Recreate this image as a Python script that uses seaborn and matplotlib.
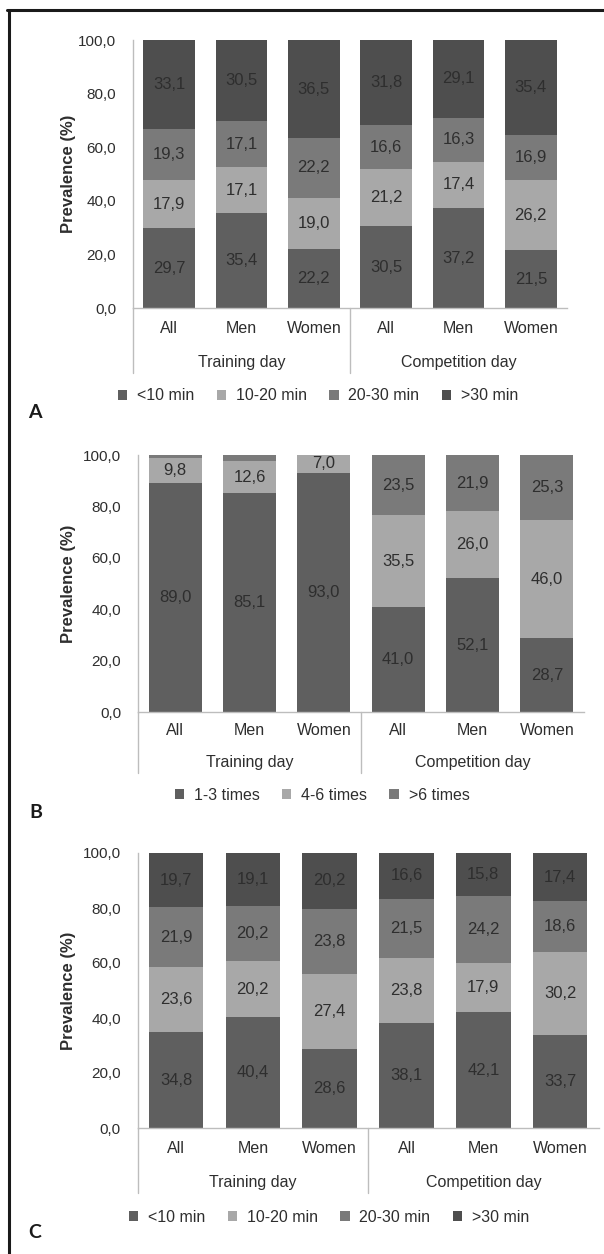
import numpy as np
import matplotlib.pyplot as plt
from matplotlib.patches import Patch
from matplotlib.lines import Line2D
from matplotlib import font_manager
import seaborn as sns

# categories
keys = ['T-All', 'T-Men', 'T-Women', 'C-All', 'C-Men', 'C-Women']
groups = ['All', 'Men', 'Women', 'All', 'Men', 'Women']
days = ['Training day', 'Competition day']

# panel A - minutes
a_series = ['<10 min', '10-20 min', '20-30 min', '>30 min']
a_lt10 = [29.7, 35.4, 22.2, 30.5, 37.2, 21.5]
a_10_20 = [17.9, 17.1, 19.0, 21.2, 17.4, 26.2]
a_20_30 = [19.3, 17.1, 22.2, 16.6, 16.3, 16.9]
a_gt30 = [33.1, 30.5, 36.5, 31.8, 29.1, 35.4]

# panel B - times
b_series = ['1-3 times', '4-6 times', '>6 times']
b_1_3 = [89.0, 85.1, 93.0, 41.0, 52.1, 28.7]
b_4_6 = [9.8, 12.6, 7.0, 35.5, 26.0, 46.0]
b_gt6 = [1.2, 2.3, 0.0, 23.5, 21.9, 25.3]

# panel C - minutes
c_series = ['<10 min', '10-20 min', '20-30 min', '>30 min']
c_lt10 = [34.8, 40.4, 28.6, 38.1, 42.1, 33.7]
c_10_20 = [23.6, 20.2, 27.4, 23.8, 17.9, 30.2]
c_20_30 = [21.9, 20.2, 23.8, 21.5, 24.2, 18.6]
c_gt30 = [19.7, 19.1, 20.2, 16.6, 15.8, 17.4]

dur_colors = ['#5f5f5f', '#a8a8a8', '#7a7a7a', '#4e4e4e']
freq_colors = ['#5f5f5f', '#a8a8a8', '#7a7a7a']

sns.set_style('white')
names_installed = {f.name for f in font_manager.fontManager.ttflist}
NARROW = 'Liberation Sans Narrow' if 'Liberation Sans Narrow' in names_installed else 'Liberation Sans'
plt.rcParams['font.family'] = [NARROW, 'DejaVu Sans']

TXT = '#2e2e2e'
AXC = '#bdbdbd'
FS = 11.5
W, H = 604, 1254

fig = plt.figure(figsize=(W / 100, H / 100), dpi=100)


def px_box(left, right, top, bottom):
    return [left / W, 1 - bottom / H, (right - left) / W, (bottom - top) / H]


def fmt(v):
    return f'{v:.1f}'.replace('.', ',')


panels = [
    dict(box=(133, 567, 40, 308), names=a_series, vals=[a_lt10, a_10_20, a_20_30, a_gt30],
         colors=dur_colors, tick_dy=22, grp_dy=55, sep_dy=65, leg=(318, 396), letter=('A', 28, 413)),
    dict(box=(138, 584, 455, 712), names=b_series, vals=[b_1_3, b_4_6, b_gt6],
         colors=freq_colors, tick_dy=20, grp_dy=51, sep_dy=61, leg=(322, 795), letter=('B', 29, 812)),
    dict(box=(137.6, 598.6, 853, 1128), names=c_series, vals=[c_lt10, c_10_20, c_20_30, c_gt30],
         colors=dur_colors, tick_dy=22, grp_dy=55, sep_dy=65, leg=(329, 1217), letter=('C', 28, 1232)),
]

for p in panels:
    left, right, top, bottom = p['box']
    ax_h = bottom - top
    ax = fig.add_axes(px_box(left, right, top, bottom))

    cums = list(np.cumsum(np.array(p['vals']), axis=0))
    # stacked bars: draw the tallest cumulative first, smaller ones on top
    for top_vals, col in reversed(list(zip(cums, p['colors']))):
        sns.barplot(x=keys, y=top_vals, order=keys, color=col, width=0.71,
                    saturation=1, errorbar=None, linewidth=0, ax=ax)

    for v, t in zip(p['vals'], cums):
        for i, (val, tt) in enumerate(zip(v, t)):
            if val >= 5:
                ax.text(i, tt - val / 2, fmt(val), ha='center', va='center',
                        fontsize=12, color=TXT)

    ax.set_xlim(-0.5, 5.5)
    ax.set_ylim(0, 100)
    ax.set_xlabel('')
    ax.set_ylabel('')
    ax.set_yticks(range(0, 101, 20))
    ax.set_yticklabels([fmt(t) for t in range(0, 101, 20)], fontsize=11, color=TXT)
    ax.set_xticks(range(6))
    ax.set_xticklabels(groups, fontsize=FS, color=TXT)
    ax.tick_params(axis='x', length=0, pad=(p['tick_dy'] - 9) * 0.72)
    ax.tick_params(axis='y', length=3, width=1, color=AXC, direction='out', pad=9)
    for s in ['top', 'right']:
        ax.spines[s].set_visible(False)
    for s in ['left', 'bottom']:
        ax.spines[s].set_color(AXC)
        ax.spines[s].set_linewidth(1)

    # group separators below the axis
    for xs in (-0.5, 2.5):
        ax.axvline(xs, ymin=-p['sep_dy'] / ax_h, ymax=0, color=AXC, lw=1, clip_on=False)
    for j, d in enumerate(days):
        ax.text(1 + 3 * j, -p['grp_dy'] / ax_h, d, transform=ax.get_xaxis_transform(),
                ha='center', va='center', fontsize=FS, color=TXT)

    fig.text(68 / W, 1 - (top + bottom) / 2 / H, 'Prevalence (%)', rotation=90,
             ha='center', va='center', fontsize=12, fontweight='bold', color=TXT)

    handles = [Patch(facecolor=c, edgecolor='none') for c in p['colors']]
    lx, ly = p['leg']
    fig.legend(handles, p['names'], loc='center', bbox_to_anchor=(lx / W, 1 - ly / H),
               ncol=len(handles), frameon=False, fontsize=FS, labelcolor=TXT,
               handlelength=0.6, handleheight=0.6, handletextpad=0.6, columnspacing=1.4)

    letter, tx, ty = p['letter']
    fig.text(tx / W, 1 - ty / H, letter, ha='left', va='center', fontsize=14,
             fontweight='bold', color='#1a1a1a', family=['Lato', 'DejaVu Sans'])

# outer frame (left and top edges)
fig.add_artist(Line2D([8.5 / W, 8.5 / W], [0, 1 - 10 / H], color='#1a1a1a', lw=2.2))
fig.add_artist(Line2D([7 / W, 1], [1 - 10 / H, 1 - 10 / H], color='#1a1a1a', lw=2.2))

fig.savefig('out.png', dpi=100, facecolor='white')
